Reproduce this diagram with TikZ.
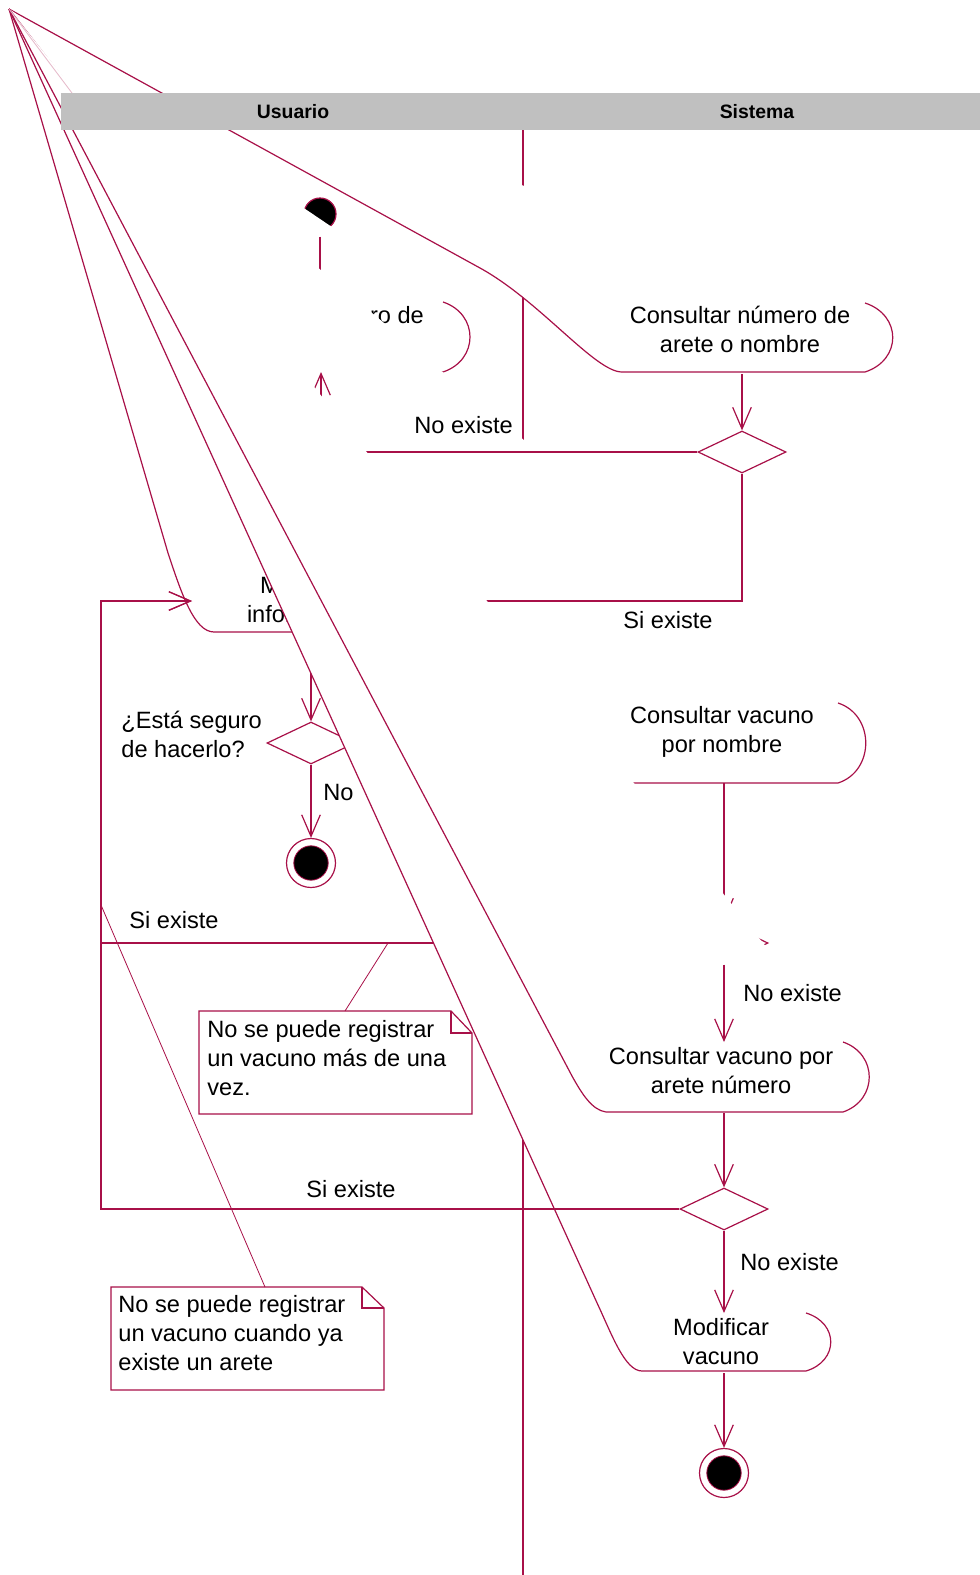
\documentclass[tikz,border=0pt]{standalone}
\usepackage{fontspec}
\setmainfont{Liberation Sans}
\usepackage{tikz}
\usetikzlibrary{arrows.meta,shapes.geometric}
\definecolor{roseline}{RGB}{168,16,72}
\definecolor{lanegray}{RGB}{192,192,192}

\begin{document}
\begin{tikzpicture}[x=0.5pt,y=-0.5pt,
  every node/.style={font=\fontsize{11.8}{14.5}\selectfont, inner sep=0pt},
  line/.style={draw=roseline, line width=0.6pt},
  flow/.style={line, -{Straight Barb[length=10.8pt,width=9.3pt]}},
  txt/.style={anchor=base, align=center},
  lbl/.style={anchor=base west, align=left},
  decision/.style={diamond, draw=roseline, line width=0.6pt, fill=white,
    minimum width=44pt, minimum height=21pt},
  startst/.style={circle, draw=roseline, line width=0.6pt, fill=black, minimum size=16pt},
  endst/.style={circle, draw=roseline, line width=0.6pt, fill=white, minimum size=24.5pt},
  notelink/.style={draw=roseline, line width=0.4pt}]
\useasboundingbox (0,0) rectangle (980,1575);
\coordinate (O) at (9,9);
% multi-line texts: base = baseline of the last line

% --- swimlane divider ---
\draw[line] (523,130) -- (523,1575);

% --- initial state ---
\node[startst] (ini) at (320,214) {};

% --- Consultar numero de arete o nombre (Sistema) ---
\fill[white] (O) -- (865,303) .. controls (902,315) and (902,360) .. (865,372)
  -- (622,372) .. controls (595,372) and (540,301) .. (480,268) -- cycle;
\draw[line] (O) -- (480,268) .. controls (540,301) and (595,372) .. (622,372)
  -- (865,372) .. controls (902,360) and (902,315) .. (865,303);
\node[txt] (consulta) at (740,352) {Consultar número de\\arete o nombre};
\coordinate (consultabot) at (742,374);
\node[decision] (dec1) at (742,452) {};
\draw[flow] (consultabot) -- (dec1.north);

% --- Introducir numero (Usuario) ---
\fill[white] (O) -- (443,302) .. controls (479,314) and (479,360) .. (443,372) -- (200,372) -- cycle;
\draw[line] (O) -- (200,372) -- (443,372) .. controls (479,360) and (479,314) .. (443,302);
\node[txt] (registro) at (315,352) {Introducir número de\\arete};
\coordinate (regtop) at (320,302);
\coordinate (regbot) at (321,372);
\draw[flow, shorten <=3pt] (ini.south) -- (regtop);

% --- Modificar informacion (Usuario) ---
\fill[white] (O) -- (400,568) .. controls (436,579) and (436,621) .. (400,632)
  -- (214,632) .. controls (194,632) and (181,592) .. (168,553) -- cycle;
\draw[line] (O) -- (168,553) .. controls (181,592) and (194,632) .. (214,632)
  -- (400,632) .. controls (436,621) and (436,579) .. (400,568);
\node[txt] (modinfo) at (308,622) {Modificar\\información};
\coordinate (modinfobot) at (311,632);
\coordinate (modinfoleft) at (192,601);
\coordinate (modinforight) at (427,601);

% --- confirmacion ---
\node[decision] (dec2) at (311,743) {};
\draw[flow] (modinfobot) -- (dec2.north);
\node[lbl] (seguro) at (121,757) {¿Está seguro\\de hacerlo?};
\node[endst] (fin1) at (311,863) {};
\fill[black, draw=roseline, line width=0.4pt] (fin1.center) circle (8.6pt);
\draw[flow] (dec2.south) -- (fin1.north);
\node[lbl] (nolbl) at (323,800) {No};

% --- Consultar vacuno por nombre (Sistema) ---
\fill[white] (O) -- (838,703) .. controls (875,715) and (875,771) .. (838,783) -- (615,783) -- cycle;
\draw[line] (O) -- (615,783) -- (838,783) .. controls (875,771) and (875,715) .. (838,703);
\node[txt] (vacnombre) at (722,752) {Consultar vacuno\\por nombre};
\coordinate (vacnombrebot) at (724,783);

\draw[flow] (dec1.west) -- (regbot |- dec1.west) -- (regbot);
\node[lbl] (noex1) at (414,433) {No existe};
\draw[flow] (dec1.south) |- (modinforight);
\node[lbl] (siex1) at (623,628) {Si existe};
\node[decision] (dec3) at (724,943) {};
\draw[flow] (vacnombrebot) -- (dec3.north);
\coordinate (looptop) at (101,601);
\draw[flow] (dec3.west) -| (looptop) -- (modinfoleft);
\node[lbl] (siex3) at (129,928) {Si existe};

% --- Modificar vacuno (Sistema) ---
\fill[white] (O) -- (806,1313) .. controls (839,1323) and (839,1361) .. (806,1371)
  -- (642,1371) .. controls (625,1371) and (612,1335) .. (598,1305) -- cycle;
\draw[line] (O) -- (598,1305) .. controls (612,1335) and (625,1371) .. (642,1371)
  -- (806,1371) .. controls (839,1361) and (839,1323) .. (806,1313);
\node[txt] (modvac) at (721,1364) {Modificar\\vacuno};
\coordinate (modvactop) at (724,1313);
\coordinate (modvacbot) at (724,1373);

% --- Consultar vacuno por arete numero (Sistema) ---
\fill[white] (O) -- (843,1042) .. controls (878,1054) and (878,1100) .. (843,1112)
  -- (606,1112) .. controls (592,1110) and (582,1094) .. (572,1076) -- cycle;
\draw[line] (O) -- (572,1076) .. controls (582,1094) and (592,1110) .. (606,1112)
  -- (843,1112) .. controls (878,1100) and (878,1054) .. (843,1042);
\node[txt] (vacarete) at (721,1093) {Consultar vacuno por\\arete número};
\coordinate (vacaretetop) at (724,1042);
\coordinate (vacaretebot) at (724,1113);

\draw[flow] (dec3.south) -- (vacaretetop);
\node[lbl] (noex3) at (743,1001) {No existe};
\node[decision] (dec4) at (724,1209) {};
\draw[flow] (vacaretebot) -- (dec4.north);
\draw[flow] (dec4.west) -| (looptop) -- (modinfoleft);
\node[lbl] (siex4) at (306,1197) {Si existe};
\draw[flow] (dec4.south) -- (modvactop);
\node[lbl] (noex4) at (740,1270) {No existe};
\node[endst] (fin2) at (724,1473) {};
\fill[black, draw=roseline, line width=0.4pt] (fin2.center) circle (8.6pt);
\draw[flow] (modvacbot) -- (fin2.north);

% --- notas ---
\draw[line, fill=white] (199,1011) -- (451,1011) -- (472,1033) -- (472,1114) -- (199,1114) -- cycle;
\draw[line] (451,1011) -- (451,1033) -- (472,1033);
\node[lbl] (nota1) at (207,1095) {No se puede registrar\\un vacuno más de una\\vez.};
\coordinate (nota1top) at (345,1011);
\coordinate (nota1ref) at (388,943);
\draw[notelink] (nota1top) -- (nota1ref);

\draw[line, fill=white] (111,1287) -- (362,1287) -- (384,1308) -- (384,1390) -- (111,1390) -- cycle;
\draw[line] (362,1287) -- (362,1308) -- (384,1308);
\node[lbl] (nota2) at (118,1370) {No se puede registrar\\un vacuno cuando ya\\existe un arete};
\coordinate (nota2top) at (265,1287);
\coordinate (nota2ref) at (101,905);
\draw[notelink] (nota2top) -- (nota2ref);

\draw[roseline!30, line width=0.4pt] (O) -- (72,93);

% --- swimlane header ---
\fill[lanegray] (61,93) rectangle (980,130);
\node[font=\fontsize{9.7}{12}\selectfont\bfseries, anchor=base] (usuario) at (293,118) {Usuario};
\node[font=\fontsize{9.7}{12}\selectfont\bfseries, anchor=base] (sistema) at (757,118) {Sistema};
\end{tikzpicture}
\end{document}
